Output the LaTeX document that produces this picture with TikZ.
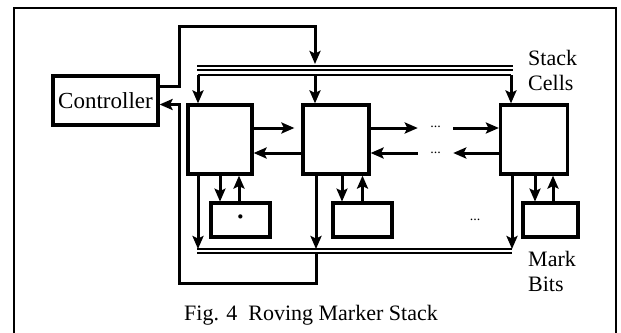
\documentclass[tikz,border=0pt]{standalone}
\usepackage{fontspec}
\setmainfont{Liberation Serif}
\usetikzlibrary{positioning, arrows.meta}

\begin{document}
\begin{tikzpicture}[x=1pt, y=-1pt,
    box/.style={draw, line width=3.2pt, inner sep=0pt},
    wire/.style={line width=3pt},
    arr/.style={wire, -{Stealth[length=13pt, width=11pt, inset=2.5pt]}},
    bus/.style={line width=1.2pt},
    lbl/.style={font=\fontsize{22}{25}\selectfont, inner sep=0pt},
    dotlbl/.style={font=\fontsize{14}{14}\selectfont, inner sep=0pt}]
    \useasboundingbox (0,0) rectangle (621,332);

    % Frame
    \draw[line width=2.6pt] (14,334) -- (14,8) -- (616,8) -- (616,334);

    % Controller, stack cells and mark bits
    \node[box, font=\fontsize{23}{25}\selectfont, minimum width=105pt, minimum height=49pt] (ctrl) at (105.5,100.5) {Controller};
    \node[box, minimum width=64pt, minimum height=69pt] (cellA) at (220,139.5) {};
    \node[box, minimum width=66pt, minimum height=69pt] (cellB) at (336,139.5) {};
    \node[box, minimum width=67pt, minimum height=69pt] (cellC) at (534,139.5) {};
    \node[box, font=\fontsize{26}{26}\selectfont\bfseries, minimum width=59pt, minimum height=34pt] (markA) at (240.5,220) {·};
    \node[box, minimum width=59pt, minimum height=34pt] (markB) at (362.5,220) {};
    \node[box, minimum width=55pt, minimum height=34pt] (markC) at (550.5,220) {};

    % Gaps
    \node[dotlbl, minimum width=35pt] (gapR) at (435.5,127) {...};
    \node[dotlbl, minimum width=35pt] (gapL) at (435.5,153) {...};
    \node[dotlbl] (gapM) at (475,220) {...};

    \node[lbl, align=left, anchor=west] (stackLbl) at (528,70) {Stack\\Cells};
    \node[lbl, align=left, anchor=west] (markLbl) at (528,271) {Mark\\Bits};
    \node[lbl] (caption) at (311,315) {Fig. 4\ \ Roving Marker Stack};

    % Top bus
    \coordinate (busTop) at (315,64);
    \coordinate (brA) at (198,75);
    \coordinate (brB) at (315,75);
    \coordinate (brC) at (511,75);
    \draw[bus] (197,66) -- (513,66);
    \draw[bus] (197,70) -- (513,70);
    \draw[wire, line width=1.8pt] (brA) -- (brC);
    \draw[arr] (brA) -- (cellA.north -| brA);
    \draw[arr] (brB) -- (cellB.north -| brB);
    \draw[arr] (brC) -- (cellC.north -| brC);

    % Bottom bus
    \coordinate (dnA) at (198,249);
    \coordinate (dnB) at (316,249);
    \coordinate (dnC) at (512,249);
    \coordinate (busBot) at (316,253);
    \draw[bus] (197,249) -- (512,249);
    \draw[bus] (197,253) -- (512,253);
    \draw[arr] (cellA.south -| dnA) -- (dnA);
    \draw[arr] (cellB.south -| dnB) -- (dnB);
    \draw[arr] (cellC.south -| dnC) -- (dnC);

    % Controller loop
    \path (ctrl.east) ++(0,-14.5) coordinate (ctlOut);
    \path (ctrl.east) ++(0,4) coordinate (ctlIn);
    \draw[arr] (ctlOut) -| (179,26) -| (busTop);
    \draw[arr] (busBot) |- (179,283) |- (ctlIn);

    % Shift links between cells
    \draw[arr, shorten >=7pt] ([yshift=11.5pt]cellA.east) -- ([yshift=11.5pt]cellB.west);
    \draw[arr] ([yshift=-13.5pt]cellB.west) -- ([yshift=-13.5pt]cellA.east);
    \draw[arr] ([yshift=11.5pt]cellB.east) -- ([yshift=11.5pt]cellB.east -| gapR.west);
    \draw[arr] ([yshift=11.5pt]cellC.west -| gapR.east) -- ([yshift=11.5pt]cellC.west);
    \draw[arr] ([yshift=-13.5pt]cellC.west) -- ([yshift=-13.5pt]cellC.west -| gapL.east);
    \draw[arr] ([yshift=-13.5pt]cellB.east -| gapL.west) -- ([yshift=-13.5pt]cellB.east);

    % Mark bit links
    \foreach \c/\dx/\ux in {A/0/-1.5, B/6/0, C/1/2.5} {
      \draw[arr] ([xshift=\dx pt]cell\c.south) -- ++(0,26);
      \draw[arr] ([xshift=\ux pt]mark\c.north) -- ([xshift=\ux pt]mark\c.north |- cell\c.south);
    }
\end{tikzpicture}
\end{document}
